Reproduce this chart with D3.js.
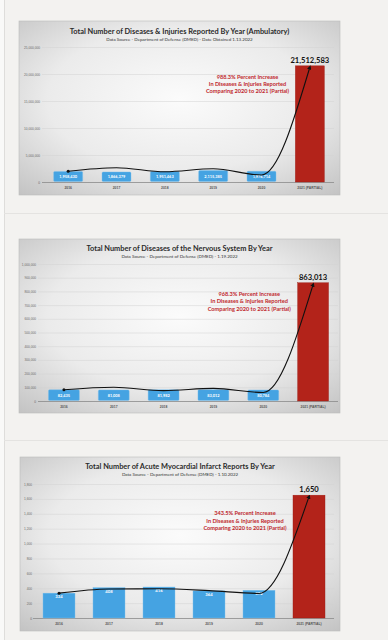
<!DOCTYPE html>
<html><head><meta charset="utf-8">
<script src="https://cdn.jsdelivr.net/npm/d3@7"></script>
<style>html,body{margin:0;padding:0;background:#f3f2f0;overflow:hidden}svg{display:block}</style>
</head><body><svg id="c" width="388" height="640"></svg>
<script>
// ---------- data ----------
const years = ["2016", "2017", "2018", "2019", "2020", "2021 (PARTIAL)"];

const ambulatoryValues = [1958430, 1866379, 1951463, 2115385, 1976714, 21512583];
const ambulatoryTrend  = [2000000, 2650000, 1900000, 2450000, 1300000, 21250000];
const ambulatoryTicks  = [0, 5000000, 10000000, 15000000, 20000000, 25000000];

const nervousValues = [82435, 81008, 81982, 83012, 80784, 863013];
const nervousTrend  = [82000, 100000, 76000, 92000, 62000, 850000];
const nervousTicks  = [0, 100000, 200000, 300000, 400000, 500000, 600000, 700000, 800000, 900000, 1000000];

const myocardialValues = [334, 408, 416, 364, 372, 1650];
const myocardialTrend  = [334, 390, 392, 368, 330, 1630];
const myocardialTicks  = [0, 200, 400, 600, 800, 1000, 1200, 1400, 1600, 1800];

const chartTitles = [
  "Total Number of Diseases & Injuries Reported By Year (Ambulatory)",
  "Total Number of Diseases of the Nervous System By Year",
  "Total Number of Acute Myocardial Infarct Reports By Year"
];
const chartSources = [
  "Data Source - Department of Defense (DMED) - Date Obtained 1.13.2022",
  "Data Source - Department of Defense (DMED) - 1.19.2022",
  "Data Source - Department of Defense (DMED) - 1.10.2022"
];
const increaseLabels = ["988.3% Percent Increase", "968.3% Percent Increase", "343.5% Percent Increase"];
const noteLines = ["In Diseases & Injuries Reported", "Comparing 2020 to 2021 (Partial)"];

// ---------- layout (positions / styles only) ----------
const layouts = [
  {fx:19, fy:21, fw:321, fh:174, left:44, right:334, top:47, bottom:182, pad:0.40, box:true, titleY:33.5, subY:41, tickX:40, gridX:42},
  {fx:19, fy:239, fw:321, fh:174, left:39, right:338, top:264, bottom:401, pad:0.38, box:true, titleY:250.5, subY:258, tickX:36, gridX:38},
  {fx:20, fy:457, fw:320, fh:174, left:34, right:334, top:484, bottom:618, pad:0.36, box:false, titleY:468.5, subY:476, tickX:32, gridX:33}
];
const datasets = [
  {values: ambulatoryValues, trend: ambulatoryTrend, ticks: ambulatoryTicks},
  {values: nervousValues, trend: nervousTrend, ticks: nervousTicks},
  {values: myocardialValues, trend: myocardialTrend, ticks: myocardialTicks}
];

const BLUE = "#45a3e2", RED = "#b3231a", NOTE = "#c0282d";
const svg = d3.select("#c");
const defs = svg.append("defs");

const grad = defs.append("radialGradient").attr("id","bg").attr("cx","50%").attr("cy","45%").attr("r","75%");
grad.append("stop").attr("offset","0%").attr("stop-color","#fbfbfb");
grad.append("stop").attr("offset","55%").attr("stop-color","#ebebeb");
grad.append("stop").attr("offset","100%").attr("stop-color","#c2c2c2");

defs.append("marker").attr("id","arrow").attr("viewBox","0 0 10 10").attr("refX",5).attr("refY",5)
  .attr("markerWidth",4).attr("markerHeight",4).attr("orient","auto-start-reverse")
  .append("path").attr("d","M0,0 L10,5 L0,10 z").attr("fill","#111");

// page
svg.append("rect").attr("width",388).attr("height",640).attr("fill","#f3f2f0");
svg.append("rect").attr("width",4).attr("height",640).attr("fill","#f9f9f8");
svg.append("line").attr("x1",4.5).attr("x2",4.5).attr("y1",0).attr("y2",640).attr("stroke","#dedddb");
[213.5, 440.5].forEach(y => svg.append("line").attr("x1",4).attr("x2",388).attr("y1",y).attr("y2",y).attr("stroke","#e4e3e1"));

const fmt = d3.format(",");

datasets.forEach((ds, i) => {
  const L = layouts[i];
  const g = svg.append("g");
  g.append("rect").attr("x",L.fx).attr("y",L.fy).attr("width",L.fw).attr("height",L.fh)
    .attr("fill","url(#bg)").attr("stroke","#bdbdbd").attr("stroke-width",0.6);

  const x = d3.scaleBand().domain(years).range([L.left, L.right]).paddingInner(L.pad).paddingOuter(L.pad/2);
  const maxTick = ds.ticks[ds.ticks.length-1];
  const y = d3.scaleLinear().domain([0, maxTick]).range([L.bottom, L.top]);

  // titles
  g.append("text").attr("x", L.fx + L.fw/2).attr("y", L.titleY).attr("text-anchor","middle")
    .attr("font-family","Lato, 'Liberation Sans', sans-serif").attr("font-weight","bold").attr("font-size",7.4)
    .attr("fill","#2b2b2b").text(chartTitles[i]);
  g.append("text").attr("x", L.fx + L.fw/2).attr("y", L.subY).attr("text-anchor","middle")
    .attr("font-family","Lato, 'Liberation Sans', sans-serif").attr("font-size",4.5)
    .attr("fill","#333").text(chartSources[i]);

  // grid + y axis labels
  const yAxis = d3.axisLeft(y).tickValues(ds.ticks).tickSize(-(L.right - L.gridX)).tickFormat(fmt).tickPadding(2);
  const ya = g.append("g").attr("transform", `translate(${L.gridX},0)`).call(yAxis);
  ya.select(".domain").remove();
  ya.selectAll(".tick line").attr("stroke", d => d === 0 ? "#8a8a8a" : "#d3d3d3").attr("stroke-width", d => d===0?0.8:0.5);
  ya.selectAll(".tick text").attr("font-size",3.2).attr("fill","#6a6a6a")
    .attr("font-family","'Liberation Sans', sans-serif").attr("x", L.tickX - L.gridX);

  // x axis labels
  const xa = g.append("g").attr("transform", `translate(0,${L.bottom})`).call(d3.axisBottom(x).tickSize(0).tickPadding(5));
  xa.select(".domain").remove();
  xa.selectAll(".tick text").attr("font-size",3.4).attr("fill","#555").attr("font-family","'Liberation Sans', sans-serif").attr("font-weight","bold");

  // bars
  const n = years.length;
  g.selectAll(".bar").data(years.map((yr, j) => ({yr, v: ds.values[j], last: j === n-1})))
    .enter().append("rect")
    .attr("x", d => x(d.yr)).attr("width", x.bandwidth())
    .attr("y", d => y(d.v)).attr("height", d => y(0) - y(d.v) - (L.box && !d.last ? 0.5 : 0))
    .attr("rx", d => (L.box && !d.last) ? 1.2 : 0)
    .attr("fill", d => d.last ? RED : BLUE)
    .attr("stroke", d => d.last ? "#9c1c14" : "#7cc0ee").attr("stroke-width", 0.4);

  // blue bar labels
  g.selectAll(".bl").data(years.slice(0, n-1).map((yr, j) => ({yr, v: ds.values[j]})))
    .enter().append("text")
    .attr("x", d => x(d.yr) + x.bandwidth()/2)
    .attr("y", d => L.box ? (y(d.v) + y(0))/2 + 1.4 : y(d.v) + 5)
    .attr("text-anchor","middle").attr("font-size", L.box ? 3.9 : 4.2).attr("font-weight","bold")
    .attr("font-family","Lato, 'Liberation Sans', sans-serif").attr("fill","#fff")
    .text(d => fmt(d.v));

  // value label above red bar
  const lastYr = years[n-1];
  g.append("text").attr("x", x(lastYr) + x.bandwidth()/2).attr("y", y(ds.values[n-1]) - 3.2)
    .attr("text-anchor","middle").attr("font-family","Lato, 'Liberation Sans', sans-serif")
    .attr("font-weight","bold").attr("font-size",7.6).attr("fill","#111").text(fmt(ds.values[n-1]));

  // trend arrow
  const line = d3.line().x((d, j) => x(years[j]) + x.bandwidth()/2).y(d => y(d)).curve(d3.curveMonotoneX);
  g.append("path").attr("d", line(ds.trend)).attr("fill","none").attr("stroke","#111").attr("stroke-width",1.1)
    .attr("marker-end","url(#arrow)");
  g.append("circle").attr("cx", x(years[0]) + x.bandwidth()/2).attr("cy", y(ds.trend[0])).attr("r",1.5).attr("fill","#111");

  // annotation
  const ax = x(years[n-2]) + x.bandwidth()/2 - 14;
  const ay = y(maxTick * 0.78) + 2;
  const note = g.append("text").attr("text-anchor","middle").attr("font-family","Lato, 'Liberation Sans', sans-serif")
    .attr("font-weight","bold").attr("font-size",5.6).attr("fill",NOTE);
  [increaseLabels[i]].concat(noteLines).forEach((t, k) => {
    note.append("tspan").attr("x", ax).attr("y", ay + k*7.3).text(t);
  });
});
</script></body></html>
